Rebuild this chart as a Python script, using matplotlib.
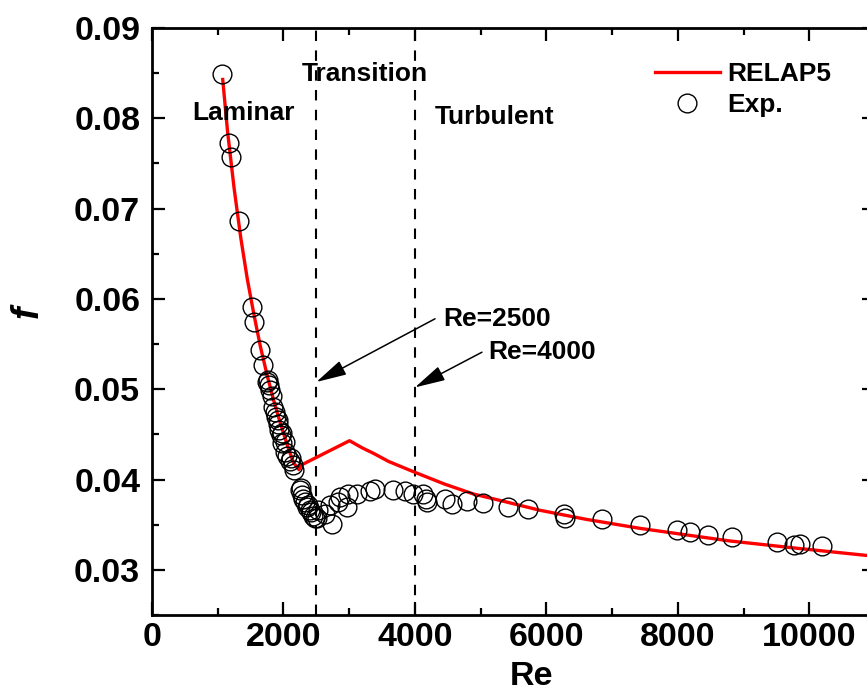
import matplotlib
matplotlib.use("Agg")
import matplotlib.pyplot as plt
from matplotlib.ticker import MultipleLocator

plt.rcParams['font.family'] = ['Liberation Sans', 'DejaVu Sans']
plt.rcParams['font.weight'] = 'bold'

# RELAP5 model curve
re_model = [1076, 1150, 1250, 1350, 1450, 1550, 1650, 1750, 1850, 1950, 2050, 2150, 2235,
            2270, 3005, 3200, 3370, 3600, 4000, 4450, 4890, 5400, 5900, 6600, 7420, 8100,
            8790, 9800, 11000]
f_model = [0.0843, 0.0785, 0.0722, 0.0668, 0.0622, 0.0583, 0.0547, 0.0516, 0.0488, 0.0463,
           0.0440, 0.0419, 0.0411, 0.0416, 0.0443, 0.0435, 0.0429, 0.0420, 0.0408, 0.0395,
           0.0384, 0.0375, 0.0366, 0.0356, 0.0346, 0.0339, 0.0332, 0.0324, 0.0315]

# Experimental data
re_exp = [1060, 1176, 1202, 1324, 1521, 1552, 1643, 1684, 1745, 1760, 1780, 1795, 1830, 1846,
          1871, 1887, 1912, 1922, 1937, 1958, 1973, 1983, 2023, 2030, 2060, 2100, 2120, 2150,
          2160, 2252, 2262, 2277, 2302, 2325, 2353, 2370, 2403, 2420, 2454, 2480, 2505, 2530,
          2632, 2734, 2708, 2835, 2861, 2962, 2987, 3114, 3317, 3393, 3671, 3849, 3976, 4128,
          4169, 4189, 4458, 4559, 4787, 5041, 5411, 5726, 6273, 6284, 6851, 7424, 7992, 8185,
          8464, 8819, 9504, 9767, 9859, 10188]
f_exp = [0.0849, 0.0773, 0.0757, 0.0686, 0.0591, 0.0574, 0.0543, 0.0527, 0.0508, 0.0510,
         0.0505, 0.0499, 0.0492, 0.0480, 0.0475, 0.0469, 0.0462, 0.0466, 0.0455, 0.0449,
         0.0452, 0.0440, 0.0431, 0.0442, 0.0426, 0.0421, 0.0424, 0.0416, 0.0411, 0.0388,
         0.0391, 0.0383, 0.0379, 0.0375, 0.0370, 0.0372, 0.0366, 0.0364, 0.0360, 0.0357,
         0.0357, 0.0366, 0.0362, 0.0351, 0.0372, 0.0375, 0.0381, 0.0370, 0.0384, 0.0384,
         0.0387, 0.0390, 0.0388, 0.0387, 0.0384, 0.0384, 0.0378, 0.0375, 0.0379, 0.0373,
         0.0376, 0.0374, 0.0370, 0.0367, 0.0362, 0.0357, 0.0356, 0.0350, 0.0344, 0.0342,
         0.0339, 0.0336, 0.0331, 0.0328, 0.0329, 0.0326]

regime_bounds = [2500, 4000]
x_ticks = [0, 2000, 4000, 6000, 8000, 10000]
y_ticks = [0.03, 0.04, 0.05, 0.06, 0.07, 0.08, 0.09]

W, H = 867, 693
fig = plt.figure(figsize=(W / 100, H / 100), dpi=100)
ax = fig.add_axes([152 / W, 1 - 615 / H, 723 / W, 587 / H])

ax.plot(re_model, f_model, color='#ff0000', lw=2.4, label='RELAP5', zorder=3)
ax.plot(re_exp, f_exp, linestyle='none', marker='o', ms=13.5, mfc='none', mec='black',
        mew=1.0, label='Exp.', zorder=4)

for xb in regime_bounds:
    ax.axvline(xb, color='black', lw=1.5, dashes=(5, 4.5), zorder=2)

ax.set_xlim(0, 11000)
ax.set_ylim(0.025, 0.09)
ax.set_xticks(x_ticks)
ax.set_yticks(y_ticks)
ax.set_yticklabels([f"{v:.2f}" for v in y_ticks])
ax.xaxis.set_minor_locator(MultipleLocator(1000))
ax.yaxis.set_minor_locator(MultipleLocator(0.005))
ax.tick_params(which='both', direction='in', top=True, right=True, width=1.6)
ax.tick_params(which='major', length=9.5)
ax.tick_params(which='minor', length=5)
ax.tick_params(axis='x', which='major', labelsize=24.5, pad=5)
ax.tick_params(axis='y', which='major', labelsize=24.5, pad=8.5)
for lab in ax.get_xticklabels() + ax.get_yticklabels():
    lab.set_fontweight('bold')
for s in ax.spines.values():
    s.set_linewidth(2.0)

ax.set_xlabel('Re', fontsize=24.5, fontweight='bold', va='baseline')
ax.xaxis.set_label_coords((531 - 152) / 723, -(685 - 615) / 587)
fig.text(28 / W, 1 - 312 / H, 'f', rotation=90, ha='center', va='center',
         fontsize=27, fontweight='bold', fontstyle='italic')

tfs = 19
ax.text(1392, 0.0798, 'Laminar', ha='center', va='baseline', fontsize=tfs, fontweight='bold')
ax.text(3241, 0.0841, 'Transition', ha='center', va='baseline', fontsize=tfs, fontweight='bold')
ax.text(5218, 0.0794, 'Turbulent', ha='center', va='baseline', fontsize=tfs, fontweight='bold')

ax.annotate('', xy=(2500, 0.0508), xytext=(4306, 0.0578),
            arrowprops=dict(arrowstyle='-|>,head_length=0.8,head_width=0.2', color='black',
                            lw=1.1, mutation_scale=23.5, shrinkA=0, shrinkB=0))
ax.annotate('', xy=(4000, 0.0502), xytext=(5020, 0.0541),
            arrowprops=dict(arrowstyle='-|>,head_length=0.8,head_width=0.2', color='black',
                            lw=1.1, mutation_scale=23.5, shrinkA=0, shrinkB=0))
ax.text(4433, 0.0570, 'Re=2500', ha='left', va='baseline', fontsize=tfs, fontweight='bold')
ax.text(5117, 0.0534, 'Re=4000', ha='left', va='baseline', fontsize=tfs, fontweight='bold')

leg = ax.legend(loc='upper left', bbox_to_anchor=((655 - 152) / 723, (615 - 62) / 587),
                frameon=False, fontsize=tfs, handlelength=2.46, handletextpad=0.29,
                labelspacing=0.28, borderpad=0, borderaxespad=0, markerscale=1.0)
for t in leg.get_texts():
    t.set_fontweight('bold')

fig.savefig('out.png', dpi=100)
